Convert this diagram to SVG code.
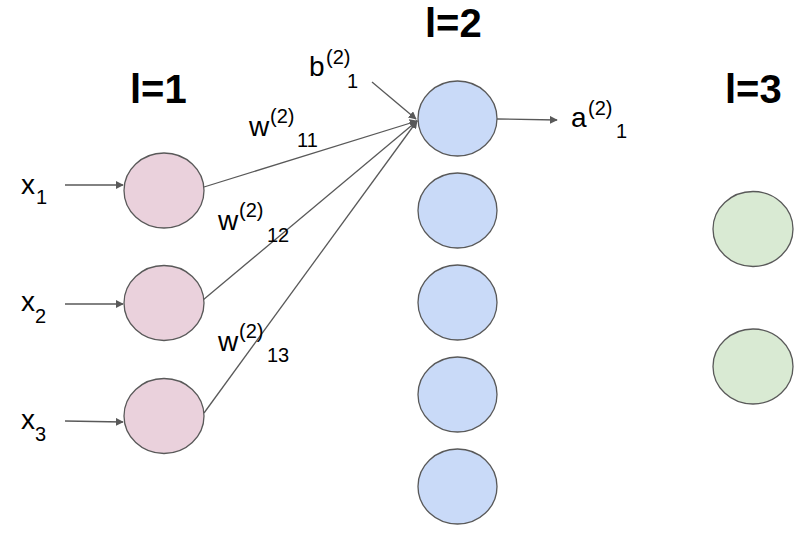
<svg xmlns="http://www.w3.org/2000/svg" width="800" height="534" viewBox="0 0 800 534">
<defs>
<marker id="ah" viewBox="0 0 10 10" refX="9" refY="5" markerWidth="8" markerHeight="8" markerUnits="userSpaceOnUse" orient="auto">
<path d="M0,0 L10,5 L0,10 z" fill="#595959"/>
</marker>
</defs>
<style>
.pink{fill:#ead1dc;stroke:#595959;stroke-width:1.3}
.blue{fill:#c9daf8;stroke:#595959;stroke-width:1.3}
.green{fill:#d9ead3;stroke:#595959;stroke-width:1.3}
.edge{stroke:#595959;stroke-width:1.3;fill:none;marker-end:url(#ah)}
.title{font-family:"Liberation Sans",Arial,sans-serif;font-weight:bold;font-size:40px;fill:#000}
.lab{font-family:"Liberation Sans",Arial,sans-serif;font-size:28px;fill:#000}
.sm{font-family:"Liberation Sans",Arial,sans-serif;font-size:20px;fill:#000}
</style>
<rect width="800" height="534" fill="#fff"/>
<text class="title" x="130" y="103">l=1</text>
<text class="title" x="425" y="37">l=2</text>
<text class="title" x="725" y="103">l=3</text>
<g id="connectors">
<line class="edge" x1="65" y1="185" x2="123" y2="185"/>
<line class="edge" x1="65" y1="304" x2="123" y2="304"/>
<line class="edge" x1="65" y1="421" x2="123" y2="422"/>
<line class="edge" x1="204" y1="187" x2="417" y2="121"/>
<line class="edge" x1="203" y1="300" x2="417" y2="121"/>
<line class="edge" x1="204" y1="413" x2="417" y2="121"/>
<line class="edge" x1="372" y1="82" x2="416" y2="119"/>
<line class="edge" x1="497" y1="119" x2="557" y2="120"/>
</g>
<g id="n1_1"><ellipse class="pink" cx="164" cy="190.5" rx="40" ry="37.5"/></g>
<g id="n1_2"><ellipse class="pink" cx="164" cy="303" rx="40" ry="37.5"/></g>
<g id="n1_3"><ellipse class="pink" cx="164" cy="416" rx="40" ry="37.5"/></g>
<g id="n2_1"><ellipse class="blue" cx="457.5" cy="118.5" rx="39.5" ry="37.5"/></g>
<g id="n2_2"><ellipse class="blue" cx="457.5" cy="210.5" rx="39.5" ry="37.5"/></g>
<g id="n2_3"><ellipse class="blue" cx="457.5" cy="302.5" rx="39.5" ry="37.5"/></g>
<g id="n2_4"><ellipse class="blue" cx="457.5" cy="394.5" rx="39.5" ry="37.5"/></g>
<g id="n2_5"><ellipse class="blue" cx="457.5" cy="486.5" rx="39.5" ry="37.5"/></g>
<g id="n3_1"><ellipse class="green" cx="753" cy="229" rx="40" ry="37.5"/></g>
<g id="n3_2"><ellipse class="green" cx="753" cy="366.5" rx="40" ry="37.5"/></g>
<g id="labels">
<text class="lab" x="21" y="194">x</text><text class="sm" x="36" y="204">1</text>
<text class="lab" x="21" y="311">x</text><text class="sm" x="35" y="323">2</text>
<text class="lab" x="21" y="429">x</text><text class="sm" x="35" y="441">3</text>
<text class="lab" x="249" y="136">w</text><text class="sm" x="270" y="123">(2)</text><text class="sm" x="297" y="147">11</text>
<text class="lab" x="218" y="230">w</text><text class="sm" x="239" y="217">(2)</text><text class="sm" x="267" y="242">12</text>
<text class="lab" x="218" y="351">w</text><text class="sm" x="239" y="338">(2)</text><text class="sm" x="267" y="362">13</text>
<text class="lab" x="309" y="76">b</text><text class="sm" x="326" y="64">(2)</text><text class="sm" x="347" y="88">1</text>
<text class="lab" x="571" y="127">a</text><text class="sm" x="588" y="115">(2)</text><text class="sm" x="616" y="138">1</text>
</g>
</svg>
